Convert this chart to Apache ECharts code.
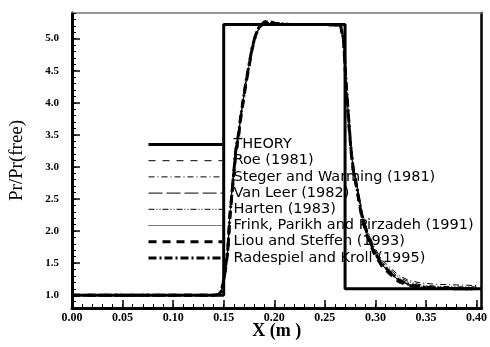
<!DOCTYPE html>
<html>
<head>
<meta charset="utf-8">
<script src="https://cdn.jsdelivr.net/npm/echarts@6/dist/echarts.min.js"></script>
<style>
  html, body { margin: 0; padding: 0; background: #fff; }
  #chart { width: 490px; height: 347px; }
</style>
</head>
<body>
<div id="chart"></div>
<script>
// theory step
var theoryX = [0, 0.15, 0.15, 0.27, 0.27, 0.405];
var theoryY = [1.0, 1.0, 5.22, 5.22, 1.1, 1.1];

// numerical results, shared x grid
var xNum = [0.000, 0.140, 0.145, 0.1475, 0.1505, 0.154, 0.156, 0.159, 0.162, 0.165,
	0.167, 0.1695, 0.172, 0.175, 0.178, 0.1815, 0.185, 0.190, 0.1945, 0.200,
	0.215, 0.250, 0.2655, 0.2685, 0.271, 0.274, 0.276, 0.278, 0.281, 0.284,
	0.287, 0.292, 0.2985, 0.3065, 0.3165, 0.323, 0.333, 0.345, 0.360, 0.380, 0.400];
var roe = [1.00, 1.00, 1.01, 1.06, 1.29, 1.70, 2.22, 2.75, 3.27, 3.55, 3.81, 4.07, 4.33, 4.59, 4.85, 5.06, 5.17, 5.24, 5.26, 5.24,
	5.22, 5.22, 5.21, 5.00, 4.33, 3.66, 3.27, 2.98, 2.75, 2.48, 2.22, 1.96, 1.70, 1.49, 1.34, 1.25, 1.18, 1.14, 1.12, 1.11, 1.10];
var stegerWarming = [1.00, 1.00, 1.02, 1.08, 1.32, 1.74, 2.26, 2.80, 3.30, 3.58, 3.84, 4.10, 4.36, 4.62, 4.87, 5.07, 5.16, 5.22, 5.24, 5.23,
	5.22, 5.22, 5.21, 5.02, 4.38, 3.70, 3.32, 3.04, 2.80, 2.54, 2.28, 2.02, 1.76, 1.55, 1.40, 1.31, 1.23, 1.19, 1.17, 1.16, 1.15];
var vanLeer = [1.00, 1.00, 1.01, 1.05, 1.27, 1.68, 2.20, 2.73, 3.25, 3.53, 3.79, 4.05, 4.31, 4.57, 4.83, 5.04, 5.16, 5.23, 5.25, 5.23,
	5.22, 5.22, 5.21, 4.98, 4.30, 3.64, 3.25, 2.97, 2.73, 2.46, 2.20, 1.94, 1.68, 1.47, 1.32, 1.23, 1.16, 1.12, 1.11, 1.10, 1.10];
var harten = [1.00, 1.00, 1.01, 1.07, 1.30, 1.72, 2.24, 2.77, 3.28, 3.56, 3.82, 4.08, 4.34, 4.60, 4.86, 5.06, 5.17, 5.23, 5.25, 5.24,
	5.22, 5.22, 5.21, 5.01, 4.35, 3.68, 3.30, 3.01, 2.78, 2.51, 2.25, 1.99, 1.73, 1.52, 1.37, 1.28, 1.21, 1.16, 1.14, 1.13, 1.13];
var frink = [1.00, 1.00, 1.01, 1.06, 1.28, 1.69, 2.21, 2.74, 3.26, 3.54, 3.80, 4.06, 4.32, 4.58, 4.84, 5.05, 5.16, 5.23, 5.25, 5.24,
	5.22, 5.22, 5.21, 4.99, 4.32, 3.65, 3.26, 2.99, 2.74, 2.47, 2.21, 1.95, 1.69, 1.48, 1.33, 1.24, 1.17, 1.13, 1.11, 1.10, 1.10];
var liou = [1.00, 1.00, 1.01, 1.05, 1.26, 1.67, 2.19, 2.72, 3.24, 3.52, 3.78, 4.04, 4.30, 4.56, 4.83, 5.05, 5.18, 5.26, 5.28, 5.24,
	5.22, 5.22, 5.21, 4.97, 4.28, 3.62, 3.23, 2.95, 2.71, 2.44, 2.18, 1.92, 1.66, 1.45, 1.30, 1.21, 1.15, 1.12, 1.11, 1.10, 1.10];
var radespiel = [1.00, 1.00, 1.01, 1.06, 1.28, 1.70, 2.22, 2.75, 3.27, 3.55, 3.81, 4.07, 4.33, 4.59, 4.85, 5.06, 5.18, 5.25, 5.27, 5.24,
	5.22, 5.22, 5.21, 4.99, 4.32, 3.65, 3.26, 2.98, 2.74, 2.47, 2.21, 1.95, 1.69, 1.48, 1.33, 1.24, 1.17, 1.13, 1.11, 1.10, 1.10];

var names = ["THEORY", "Roe (1981)", "Steger and Warming (1981)", "Van Leer (1982)", "Harten (1983)",
	"Frink, Parikh and Pirzadeh (1991)", "Liou and Steffen (1993)", "Radespiel and Kroll (1995)"];

var xTicks = [0, 0.05, 0.10, 0.15, 0.20, 0.25, 0.30, 0.35, 0.40];
var yTicks = [1.0, 1.5, 2.0, 2.5, 3.0, 3.5, 4.0, 4.5, 5.0];

var serif = "Liberation Serif";

function pairs(xs, ys) {
	return xs.map(function (x, i) { return [x, ys[i]]; });
}

var chart = echarts.init(document.getElementById("chart"), null, { renderer: "canvas" });

var styles = [
	{ data: pairs(theoryX, theoryY), width: 3, type: "solid" },
	{ data: pairs(xNum, roe), width: 1, type: [7, 7] },
	{ data: pairs(xNum, stegerWarming), width: 1, type: [6, 3, 1, 3] },
	{ data: pairs(xNum, vanLeer), width: 1, type: [14, 4] },
	{ data: pairs(xNum, harten), width: 1, type: [6, 2, 1, 2, 1, 2] },
	{ data: pairs(xNum, frink), width: 1, type: [1, 1] },
	{ data: pairs(xNum, liou), width: 3, type: [8, 6] },
	{ data: pairs(xNum, radespiel), width: 3, type: [8, 3, 2, 3] },
];

var series = styles.map(function (s, i) {
	return {
		name: names[i],
		type: "line",
		data: s.data,
		symbol: "none",
		showSymbol: false,
		lineStyle: { color: "#000", width: s.width, type: s.type },
		itemStyle: { color: "#000" },
		z: i === 0 ? 2 : 3,
	};
});

var option = {
	animation: false,
	backgroundColor: "#fff",
	grid: { left: 69, right: 6, top: 13, bottom: 39 },
	legend: {
		orient: "vertical",
		left: 147,
		top: 137,
		padding: 0,
		itemWidth: 74,
		itemHeight: 14,
		itemGap: 1.2,
		selectedMode: false,
		itemStyle: { color: "rgba(0,0,0,0)", borderWidth: 0, opacity: 0 },
		textStyle: { fontFamily: "DejaVu Sans", fontSize: 14.5, color: "#000", padding: [0, 0, 0, 6], lineHeight: 14 },
		data: names.map(function (n, i) {
			return {
				name: n,
				itemStyle: { color: "rgba(0,0,0,0)", borderWidth: 0, opacity: 0 },
				lineStyle: { width: styles[i].width, type: styles[i].type, color: "#000", opacity: 1 },
			};
		}),
	},
	xAxis: [
		{
			type: "value", min: 0, max: 0.405, interval: 0.01, position: "bottom",
			axisLine: { onZero: false, lineStyle: { color: "#000", width: 3 } },
			axisTick: { inside: true, length: 4, lineStyle: { color: "#000", width: 1 } },
			axisLabel: { show: false },
			splitLine: { show: false },
			name: "X (m )",
			nameLocation: "middle",
			nameGap: 14,
			nameTextStyle: { fontFamily: serif, fontWeight: "bold", fontSize: 18, color: "#000", verticalAlign: "top" },
		},
		{
			type: "value", min: 0, max: 0.405, position: "bottom",
			axisLine: { show: false, onZero: false },
			axisTick: { inside: true, length: 8, customValues: xTicks, lineStyle: { color: "#000", width: 1.5 } },
			axisLabel: {
				customValues: xTicks, margin: 4,
				fontFamily: serif, fontWeight: "bold", fontSize: 12, color: "#000",
				formatter: function (v) { return v.toFixed(2); },
			},
			splitLine: { show: false },
		},
		{
			type: "value", min: 0, max: 0.405, position: "top",
			axisLine: { onZero: false, lineStyle: { color: "#777", width: 1.5 } },
			axisTick: { show: false }, axisLabel: { show: false }, splitLine: { show: false },
		},
	],
	yAxis: [
		{
			type: "value", min: 0.8, max: 5.4, interval: 0.1, position: "left",
			axisLine: { onZero: false, lineStyle: { color: "#000", width: 3 } },
			axisTick: { inside: true, length: 4, lineStyle: { color: "#000", width: 1 } },
			axisLabel: { show: false },
			splitLine: { show: false },
			name: "Pr/Pr(free)",
			nameLocation: "middle",
			nameGap: 45,
			nameRotate: 90,
			nameTextStyle: { fontFamily: serif, fontSize: 19, color: "#000" },
		},
		{
			type: "value", min: 0.8, max: 5.4, position: "left",
			axisLine: { show: false, onZero: false },
			axisTick: { inside: true, length: 8, customValues: yTicks, lineStyle: { color: "#000", width: 1.5 } },
			axisLabel: {
				customValues: yTicks, margin: 13,
				fontFamily: serif, fontWeight: "bold", fontSize: 11, color: "#000",
				formatter: function (v) { return v.toFixed(1); },
			},
			splitLine: { show: false },
		},
		{
			type: "value", min: 0.8, max: 5.4, position: "right",
			axisLine: { onZero: false, lineStyle: { color: "#000", width: 2.5 } },
			axisTick: { show: false }, axisLabel: { show: false }, splitLine: { show: false },
		},
	],
	series: series,
};

chart.setOption(option);
</script>
</body>
</html>
